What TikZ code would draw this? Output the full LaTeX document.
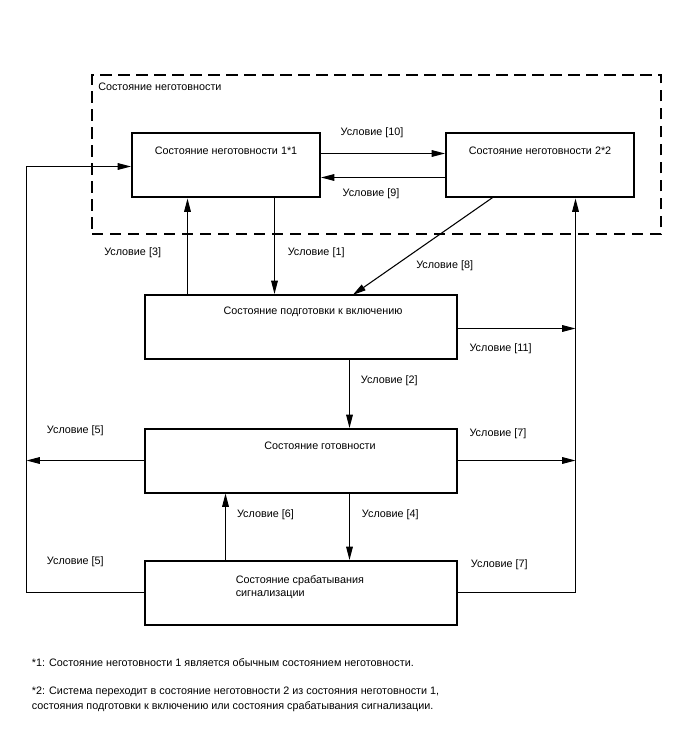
\documentclass[tikz,border=0pt]{standalone}
\usepackage{fontspec}
\setmainfont{Liberation Sans}
\usetikzlibrary{arrows.meta,fit,calc}
\begin{document}
\begin{tikzpicture}[x=0.75pt,y=-0.75pt,
  box/.style={draw, line width=1.5pt, inner sep=0pt},
  conn/.style={line width=0.8pt},
  arr/.style={conn, -{Triangle[length=10pt,width=5pt]}},
  txt/.style={inner sep=0pt, font=\fontsize{8.1}{9.9}\selectfont, anchor=base},
  lbl/.style={txt, anchor=base west},
  dashbox/.style={draw, line width=1.5pt, dash pattern=on 8.5pt off 5pt, inner sep=0pt}]
\useasboundingbox (0,0) rectangle (688,755);

% outer dashed group
\node[dashbox, fit={(92,75) (661,234.5)}] (grp) {};
\node[lbl] (grplbl) at (98,90.4) {Состояние неготовности};

% boxes
\node[box, fit={(132,133.5) (320,197.5)}] (b1) {};
\node[box, fit={(446,133.5) (634,197.5)}] (b2) {};
\node[box, fit={(145,295) (457,359)}] (b3) {};
\node[box, fit={(145,429) (457,492.5)}] (b4) {};
\node[box, fit={(145,561) (457,624.5)}] (b5) {};

% box texts
\node[txt] (t1) at (226,154.7) {Состояние неготовности 1*1};
\node[txt] (t2) at (540,154.7) {Состояние неготовности 2*2};
\node[txt] (t3) at (313,314.7) {Состояние подготовки к включению};
\node[txt] (t4) at (320,449.7) {Состояние готовности};
\node[lbl] (t5a) at (235.5,583) {Состояние срабатывания};
\node[lbl] (t5b) at (235.5,596.4) {сигнализации};

% helper coordinates
\coordinate (y10) at (0,153.5);
\coordinate (y9) at (0,177.5);
\coordinate (yin) at (0,166.5);
\coordinate (y11) at (0,328.5);
\coordinate (y57) at (0,460.5);
\coordinate (ybot) at (0,592.5);
\coordinate (xL) at (26.5,0);
\coordinate (xR) at (575.5,0);
\coordinate (x3) at (187.5,0);
\coordinate (x1) at (274.5,0);
\coordinate (x24) at (349.5,0);
\coordinate (x6) at (225.5,0);
\coordinate (d8s) at (492.7,197.5);
\coordinate (d8e) at (352.7,295);

% connectors
\draw[arr] (b1.east |- y10) -- (b2.west |- y10);
\draw[arr] (b2.west |- y9) -- (b1.east |- y9);
\draw[arr] (b5.west |- ybot) -- (xL |- ybot) -- (xL |- yin) -- (b1.west |- yin);
\draw[arr] (b4.west |- y57) -- (xL |- y57);
\draw[arr] (b3.north -| x3) -- (b1.south -| x3);
\draw[arr] (b1.south -| x1) -- (b3.north -| x1);
\draw[arr] (d8s) -- (d8e);
\draw[arr] (b3.east |- y11) -- (xR |- y11);
\draw[arr] (b5.east |- ybot) -- (xR |- ybot) -- (b2.south -| xR);
\draw[arr] (b4.east |- y57) -- (xR |- y57);
\draw[arr] (b3.south -| x24) -- (b4.north -| x24);
\draw[arr] (b4.south -| x24) -- (b5.north -| x24);
\draw[arr] (b5.north -| x6) -- (b4.south -| x6);

% labels
\node[txt] (c10) at (372,135.4) {Условие [10]};
\node[txt] (c9) at (371,197) {Условие [9]};
\node[lbl] (c3) at (104,255.4) {Условие [3]};
\node[lbl] (c1) at (287.5,255.4) {Условие [1]};
\node[lbl] (c8) at (416,268.2) {Условие [8]};
\node[lbl] (c11) at (469.3,351.4) {Условие [11]};
\node[lbl] (c2) at (360.6,383) {Условие [2]};
\node[lbl] (c5a) at (46.7,433) {Условие [5]};
\node[lbl] (c7a) at (469.3,436.4) {Условие [7]};
\node[lbl] (c6) at (236.8,517.4) {Условие [6]};
\node[lbl] (c4) at (361.7,517) {Условие [4]};
\node[lbl] (c5b) at (46.7,564) {Условие [5]};
\node[lbl] (c7b) at (470.7,567) {Условие [7]};

% footnotes
\node[lbl] (f1) at (31.7,666.7) {*1: Состояние неготовности 1 является обычным состоянием неготовности.};
\node[lbl] (f2a) at (31.7,694.7) {*2: Система переходит в состояние неготовности 2 из состояния неготовности 1,};
\node[lbl] (f2b) at (31.7,709.7) {состояния подготовки к включению или состояния срабатывания сигнализации.};
\end{tikzpicture}
\end{document}
